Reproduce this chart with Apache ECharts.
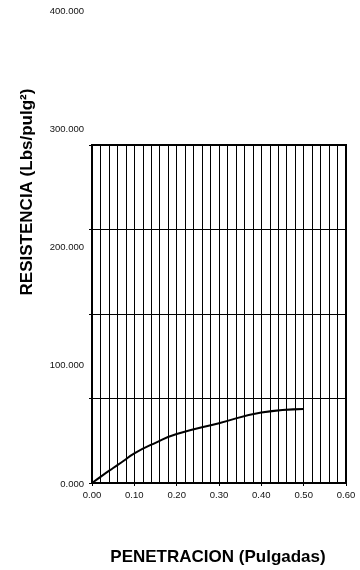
<!DOCTYPE html>
<html>
<head>
<meta charset="utf-8">
<script src="https://cdn.jsdelivr.net/npm/echarts@6/dist/echarts.min.js"></script>
<style>
  html, body { margin: 0; padding: 0; background: #fff; }
  #chart { width: 360px; height: 570px; }
</style>
</head>
<body>
<div id="chart"></div>
<script>
// penetracion (pulgadas) vs resistencia (lbs/pulg2)
const penetracion = [0, 0.025, 0.05, 0.075, 0.1, 0.15, 0.2, 0.3, 0.4, 0.5];
const resistencia = [0, 6.5, 12.7, 18.8, 25.1, 34.0, 41.4, 50.6, 59.6, 62.6];
const yTicks = [0, 100, 200, 300, 400];
const xTicks = [0, 0.1, 0.2, 0.3, 0.4, 0.5, 0.6];

const FONT = '"Liberation Sans", Arial, sans-serif';
let chart = echarts.init(document.getElementById('chart'));

// el cuadro del grafico no llega a 400, solo las etiquetas
const boxTop = 145, boxBottom = 87, lblTop = 11, lblBottom = 86;
const lblMax = yTicks[yTicks.length - 1];
const boxMax = lblMax * (570 - boxTop - boxBottom) / (570 - lblTop - lblBottom);

chart.setOption({
  animation: false,
  grid: [
    { left: 92, right: 14, top: boxTop, bottom: boxBottom, show: true,
      borderColor: '#000', borderWidth: 2, backgroundColor: 'transparent' },
    { left: 92, right: 14, top: lblTop, bottom: lblBottom }
  ],
  xAxis: [
    {
      gridIndex: 0, type: 'value', min: xTicks[0], max: xTicks[xTicks.length - 1], interval: 0.1,
      axisLine: { lineStyle: { color: '#000', width: 2 } },
      axisTick: { show: true, length: 3, lineStyle: { color: '#000' } },
      axisLabel: { margin: 7, fontFamily: FONT, fontSize: 9.5, color: '#111',
        formatter: v => v.toFixed(2) },
      splitLine: { show: true, lineStyle: { color: '#000', width: 1 } },
      minorTick: { show: false, splitNumber: 5 },
      minorSplitLine: { show: true, lineStyle: { color: '#000', width: 1 } }
    },
    { gridIndex: 1, type: 'value', min: 0, max: 1, show: false }
  ],
  yAxis: [
    {
      gridIndex: 0, type: 'value', min: 0, max: boxMax, interval: boxMax / 4,
      axisLine: { show: true, lineStyle: { color: '#000', width: 2 } },
      axisTick: { show: true, length: 3, lineStyle: { color: '#000' } },
      axisLabel: { show: false },
      splitLine: { show: true, lineStyle: { color: '#000', width: 1 } }
    },
    {
      gridIndex: 1, type: 'value', min: yTicks[0], max: lblMax, interval: 100,
      axisLine: { show: false }, axisTick: { show: false }, splitLine: { show: false },
      axisLabel: { margin: 8, fontFamily: FONT, fontSize: 9.5, color: '#111',
        formatter: v => v.toFixed(3) }
    }
  ],
  graphic: [
    { type: 'text', x: 27, y: 192, rotation: Math.PI / 2,
      style: { text: 'RESISTENCIA (Lbs/pulg²)', fontFamily: FONT, fontSize: 17,
        fontWeight: 'bold', fill: '#000', align: 'center', verticalAlign: 'middle' } },
    { type: 'text', x: 218, y: 557,
      style: { text: 'PENETRACION (Pulgadas)', fontFamily: FONT, fontSize: 17,
        fontWeight: 'bold', fill: '#000', align: 'center', verticalAlign: 'middle' } }
  ],
  series: [
    {
      type: 'line', xAxisIndex: 0, yAxisIndex: 0,
      data: penetracion.map((p, i) => [p, resistencia[i]]),
      smooth: 0.5, showSymbol: false,
      lineStyle: { color: '#000', width: 2 }
    }
  ]
});
</script>
</body>
</html>
